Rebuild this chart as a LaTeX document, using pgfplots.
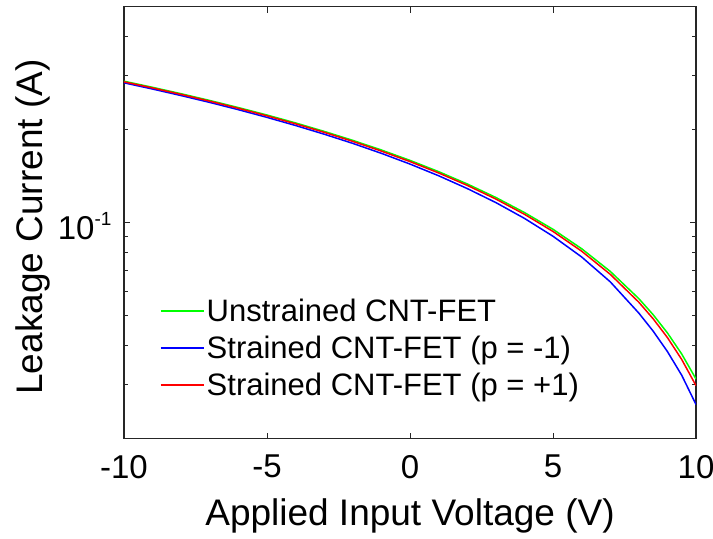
\documentclass[border=0pt]{standalone}
\usepackage{fontspec}
\setmainfont{Liberation Sans}
\usepackage{pgfplots}
\pgfplotsset{compat=1.18}
\definecolor{axgray}{rgb}{0.15,0.15,0.15}
\definecolor{cgreen}{rgb}{0,1,0}
\definecolor{cblue}{rgb}{0,0,1}
\definecolor{cred}{rgb}{1,0,0}
\begin{document}
\begin{tikzpicture}
\begin{semilogyaxis}[
  width=572pt, height=432pt, scale only axis,
  xmin=-10, xmax=10, ymin=0.02, ymax=0.5,
  xtick={-10,-5,0,5,10}, xticklabels={-10,-5,0,5,10},
  ytick={0.1}, yticklabels={10\raisebox{14.4pt}{\fontsize{19}{19}\selectfont -1}},
  minor ytick={0.02,0.03,0.04,0.05,0.06,0.07,0.08,0.09,0.2,0.3,0.4,0.5},
  minor xtick={},
  tick align=inside,
  major tick length=6pt, minor tick length=4pt,
  tick style={axgray, line width=1pt},
  axis line style={axgray, line width=1.3pt},
  ticklabel style={font=\fontsize{33}{40}\selectfont, text=black},
  xticklabel style={yshift=-13pt},
  yticklabel style={yshift=-3.5pt, xshift=-9pt},
  xlabel={Applied Input Voltage (V)},
  ylabel={Leakage Current (A)},
  label style={font=\fontsize{37}{44}\selectfont},
  xlabel style={at={(axis description cs:0.5,0)}, anchor=north, yshift=-56pt},
  ylabel style={at={(axis description cs:-0.1227,0.49)}, anchor=south},
  legend style={draw=none, fill=none, font=\fontsize{31}{37}\selectfont,
    at={(0.063,0.3287)}, anchor=north west, inner sep=0pt, row sep=9pt,
    column sep=0pt},
  legend cell align=left,
  legend image code/.code={\path (0pt,0pt) -- (43pt,0pt);\draw[#1] (0pt,0pt) -- (40pt,0pt);},
]
\addplot[color=cgreen, line width=1.5pt] coordinates {
(-10,0.2870) (-9,0.2742) (-8,0.2614) (-7,0.2486) (-6,0.2358) (-5,0.2231)
(-4,0.2103) (-3,0.1975) (-2,0.1847) (-1,0.1719) (0,0.1591) (1,0.1463)
(2,0.1335) (3,0.1207) (4,0.1079) (5,0.0952) (6,0.0824) (7,0.0696)
(8,0.0568) (8.5,0.0504) (9,0.0440) (9.5,0.0376) (10,0.0312)};
\addlegendentry{Unstrained CNT-FET}
\addplot[color=cblue, line width=1.5pt] coordinates {
(-10,0.2836) (-9,0.2707) (-8,0.2578) (-7,0.2450) (-6,0.2321) (-5,0.2192)
(-4,0.2063) (-3,0.1934) (-2,0.1806) (-1,0.1677) (0,0.1548) (1,0.1419)
(2,0.1290) (3,0.1162) (4,0.1033) (5,0.0904) (6,0.0775) (7,0.0644)
(8,0.0510) (8.5,0.0446) (9,0.0383) (9.5,0.0321) (10,0.0258)};
\addlegendentry{Strained CNT-FET (p = -1)}
\addplot[color=cred, line width=1.5pt] coordinates {
(-10,0.2857) (-9,0.2729) (-8,0.2601) (-7,0.2473) (-6,0.2345) (-5,0.2217)
(-4,0.2089) (-3,0.1961) (-2,0.1833) (-1,0.1705) (0,0.1577) (1,0.1449)
(2,0.1321) (3,0.1193) (4,0.1065) (5,0.0937) (6,0.0809) (7,0.0681)
(8,0.0553) (8.5,0.0489) (9,0.0425) (9.5,0.0361) (10,0.0297)};
\addlegendentry{Strained CNT-FET (p = +1)}
\end{semilogyaxis}
\pgfresetboundingbox
\path ([xshift=-124pt,yshift=-100pt]current axis.south west) rectangle ([xshift=17pt,yshift=6.7pt]current axis.north east);
\end{tikzpicture}
\end{document}
